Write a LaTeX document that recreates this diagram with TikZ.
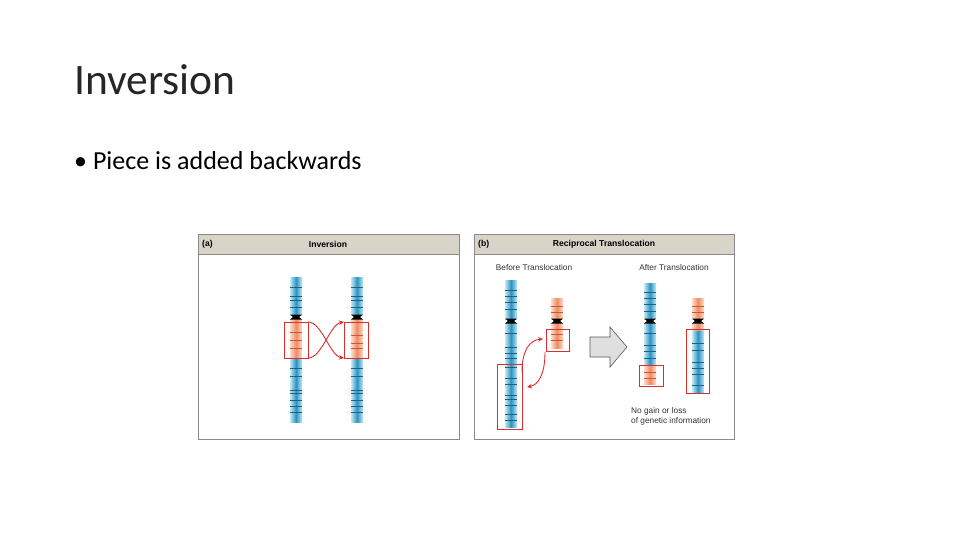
\documentclass[tikz,border=0pt]{standalone}
\usepackage{fontspec}
\usetikzlibrary{arrows.meta}
\setmainfont{Carlito}
\newfontfamily\arial{Liberation Sans}
\begin{document}
\begin{tikzpicture}[x=1pt,y=-1pt,
  hdr/.style={fill=hdrc,draw=frame,line width=0.8pt},
  panel/.style={fill=white,draw=frame,line width=0.8pt},
  hbox/.style={color=redc,draw=redc,line width=1pt},
  rarrow/.style={draw=redc,line width=0.9pt,-{Stealth[length=5pt,width=4.5pt]}},
  small/.style={font=\arial\fontsize{8.3}{9.5}\selectfont,inner sep=0pt,text=black!80},
  smallb/.style={font=\arial\bfseries\fontsize{8.6}{9.5}\selectfont,inner sep=0pt}]
\definecolor{hdrc}{HTML}{D9D4C8}
\definecolor{frame}{HTML}{8A8A8A}
\definecolor{redc}{HTML}{D9302E}
\definecolor{bmid}{HTML}{2A94C2}
\definecolor{bedge}{HTML}{C4E8F4}
\definecolor{omid}{HTML}{F08B62}
\definecolor{oedge}{HTML}{FCDCCB}
\definecolor{bband}{HTML}{1F5F80}
\definecolor{oband}{HTML}{C05A3A}
\newcommand\myseg[5]{% xc, y1, y2, kind(b/o), bands
  \path[left color=#4edge,right color=#4edge,middle color=#4mid] (#1-6,#2) rectangle (#1+6,#3);
  \foreach \yy in {#5}{\draw[#4band,line width=0.6pt] (#1-6,\yy) -- (#1+6,\yy);}}
\newcommand\mycen[2]{\fill[black] (#1-6,#2-2.5) -- (#1+6,#2-2.5) -- (#1+3,#2) -- (#1+6,#2+2.5) -- (#1-6,#2+2.5) -- (#1-3,#2) -- cycle;}
\useasboundingbox (0,0) rectangle (960,540);
\fill[white] (0,0) rectangle (960,540);
\node[anchor=base west,inner sep=0pt,text=black!85,font=\fontsize{43.5}{48}\selectfont] (title) at (74,95) {Inversion};
\node[anchor=base west,inner sep=0pt,font=\fontsize{26}{30}\selectfont] (bul) at (74,170) {\textbullet\ Piece is added backwards};
% panel a
\draw[panel] (198,234) rectangle (459,439);
\draw[hdr] (198,234) rectangle (459,254);
\node[smallb,anchor=west] (la) at (202,244) {(a)};
\node[smallb] (ta) at (328,244) {Inversion};
\myseg{296}{277}{315}{b}{287,296,300,307}
\myseg{296}{319}{358}{o}{332,340,348}
\myseg{296}{358}{422}{b}{368,376,390,393,400,406,412}
\mycen{296}{317}
\myseg{357}{277}{315}{b}{287,296,300,307}
\myseg{357}{319}{358}{o}{335,343,348}
\myseg{357}{358}{422}{b}{368,376,390,393,400,406,412}
\mycen{357}{317}
\draw[hbox] (284,322) rectangle (308,358);
\draw[hbox] (344,322) rectangle (368,358);
\coordinate (a1) at (308,322); \coordinate (a2) at (308,358);
\coordinate (a3) at (344,322); \coordinate (a4) at (344,358);
\draw[rarrow] (a1) .. controls (322,322) and (330,356) .. (a4);
\draw[rarrow] (a2) .. controls (322,358) and (330,324) .. (a3);
% panel b
\draw[panel] (474,234) rectangle (734,439);
\draw[hdr] (474,234) rectangle (734,254);
\node[smallb,anchor=west] (lb) at (478,244) {(b)};
\node[smallb] (tb) at (604,244) {Reciprocal Translocation};
\node[small] (bt) at (534,268) {Before Translocation};
\node[small] (aft) at (674,268) {After Translocation};
\myseg{511}{280}{319}{b}{290,296,302,309}
\myseg{511}{323}{427}{b}{333,347,353,358,367,378,384,395,399,405,414,420}
\mycen{511}{321}
\myseg{557}{298}{319}{o}{306,312}
\myseg{557}{323}{348}{o}{334,340}
\mycen{557}{321}
\draw[redc,line width=1pt] (497,364) rectangle (522,429);
\draw[redc,line width=1pt] (546,329) rectangle (569,351);
\coordinate (b1) at (522,372); \coordinate (b2) at (543,339);
\coordinate (b3) at (545,352); \coordinate (b4) at (527,387);
\draw[rarrow] (b1) .. controls (522,350) and (530,340) .. (b2);
\draw[rarrow] (b3) .. controls (545,375) and (538,385) .. (b4);
\draw[fill=gray!25,draw=gray!70!black,line width=0.6pt] (590,337) -- (610,337) -- (610,327) -- (627,347) -- (610,367) -- (610,357) -- (590,357) -- cycle;
\myseg{650}{283}{319}{b}{292,298,304,311}
\myseg{650}{323}{365}{b}{333,345,351,358}
\myseg{650}{365}{384}{o}{372,378}
\mycen{650}{321}
\myseg{698}{298}{319}{o}{306,312}
\myseg{698}{323}{331}{o}{}
\myseg{698}{331}{393}{b}{343,350,362,368,374,385}
\mycen{698}{321}
\draw[redc,line width=1pt] (639,365) rectangle (663,386);
\draw[redc,line width=1pt] (686,329) rectangle (709,393);
\node[small,anchor=west] (ng1) at (631,411) {No gain or loss};
\node[small,anchor=west] (ng2) at (631,421) {of genetic information};
\end{tikzpicture}
\end{document}
